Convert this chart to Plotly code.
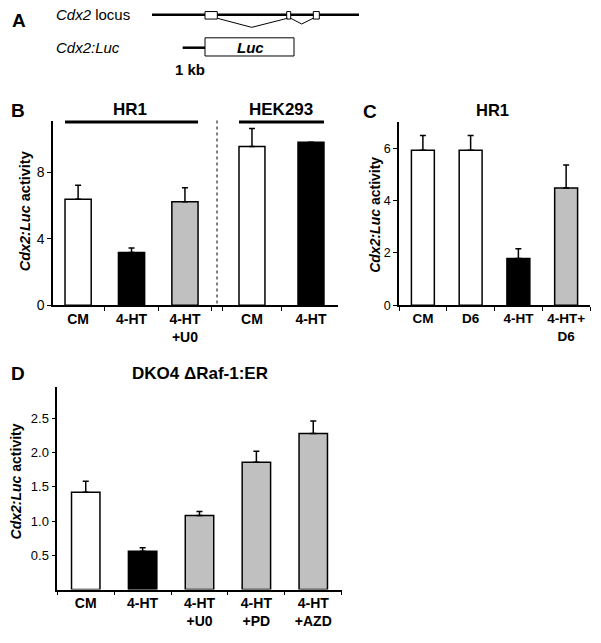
import plotly.graph_objects as go

# ---------------- data ----------------
b_hr1_cats = ["CM", "4-HT", "4-HT<br>+U0"]
b_hr1_vals = [6.37, 3.16, 6.21]
b_hr1_err = [0.83, 0.28, 0.85]

b_hek_cats = ["CM", "4-HT"]
b_hek_vals = [9.54, 9.79]
b_hek_err = [1.08, 0.0]

c_cats = ["CM", "D6", "4-HT", "4-HT+<br>D6"]
c_vals = [5.94, 5.94, 1.79, 4.49]
c_err = [0.56, 0.56, 0.37, 0.88]

d_cats = ["CM", "4-HT", "4-HT<br>+U0", "4-HT<br>+PD", "4-HT<br>+AZD"]
d_vals = [1.42, 0.56, 1.08, 1.86, 2.28]
d_err = [0.16, 0.05, 0.06, 0.16, 0.18]

b_ticks = [0, 4, 8]
c_ticks = [0, 2, 4, 6]
d_ticks = [0.5, 1.0, 1.5, 2.0, 2.5]

# ---------------- style ----------------
W, H = 601, 643
FONT = "Liberation Sans, Arial, sans-serif"
WHITE, BLACK, GRAY = "white", "black", "#c0c0c0"
b_hr1_colors = [WHITE, BLACK, GRAY]
b_hek_colors = [WHITE, BLACK]
c_colors = [WHITE, WHITE, BLACK, GRAY]
d_colors = [WHITE, BLACK, GRAY, GRAY, GRAY]


def fx(x):
    return x / W


def fy(y):
    return 1 - y / H


def bar(cats, vals, err, colors, xa, ya, width):
    return go.Bar(
        x=cats, y=vals, xaxis=xa, yaxis=ya, width=width,
        marker=dict(color=colors, line=dict(color="black", width=1.5)),
        error_y=dict(type="data", symmetric=False, array=err,
                     arrayminus=[0] * len(err), color="black",
                     thickness=1.5, width=3),
        showlegend=False, hoverinfo="skip",
    )


W_B1, W_B2, W_C, W_D = 0.49, 0.44, 0.48, 0.5

fig = go.Figure()
fig.add_trace(bar(b_hr1_cats, b_hr1_vals, b_hr1_err, b_hr1_colors, "x", "y", W_B1))
fig.add_trace(bar(b_hek_cats, b_hek_vals, b_hek_err, b_hek_colors, "x2", "y", W_B2))
fig.add_trace(bar(c_cats, c_vals, c_err, c_colors, "x3", "y3", W_C))
fig.add_trace(bar(d_cats, d_vals, d_err, d_colors, "x4", "y4", W_D))

xcommon = dict(type="category", showline=True, linecolor="black", linewidth=1.5,
               ticks="outside", tickson="boundaries", ticklen=4, tickcolor="black",
               tickwidth=1.2, showgrid=False, zeroline=False, fixedrange=True)
ycommon = dict(showline=True, linecolor="black", linewidth=1.5, ticks="outside",
               ticklen=4, tickcolor="black", tickwidth=1.2, showgrid=False,
               zeroline=False, fixedrange=True)

fig.update_layout(
    width=W, height=H, margin=dict(l=0, r=0, t=0, b=0),
    paper_bgcolor="white", plot_bgcolor="rgba(0,0,0,0)",
    font=dict(family=FONT, color="black"),
    showlegend=False,
    xaxis=dict(xcommon, domain=[fx(53), fx(217)], range=[-0.47, 2.6], anchor="y",
               tickfont=dict(size=14, weight="bold", family=FONT)),
    xaxis2=dict(xcommon, domain=[fx(217), fx(338)], range=[-0.593, 1.458], anchor="y",
                tickfont=dict(size=14, weight="bold", family=FONT)),
    yaxis=dict(ycommon, domain=[fy(309), fy(123)], range=[0, 11.04], anchor="x",
               tickvals=b_ticks, tickfont=dict(size=14, family=FONT)),
    xaxis3=dict(xcommon, domain=[fx(399), fx(590)], range=[-0.5, 3.5], anchor="y3",
                tickfont=dict(size=13.5, weight="bold", family=FONT)),
    yaxis3=dict(ycommon, domain=[fy(309), fy(124)], range=[0, 7.0], anchor="x3",
                tickvals=c_ticks, tickfont=dict(size=12.5, family=FONT)),
    xaxis4=dict(xcommon, domain=[fx(57.3), fx(341.7)], range=[-0.5, 4.5], anchor="y4",
                tickfont=dict(size=14, weight="bold", family=FONT)),
    yaxis4=dict(ycommon, domain=[fy(597), fy(391.7)], range=[0, 2.96], anchor="x4",
                tickvals=d_ticks, tickformat=".1f", tickfont=dict(size=13, family=FONT)),
)

shapes = []
# Panel B group lines
shapes.append(dict(type="line", xref="x", yref="paper", x0=-W_B1 / 2, x1=2 + W_B1 / 2,
                   y0=fy(123.5), y1=fy(123.5), line=dict(color="black", width=3)))
shapes.append(dict(type="line", xref="x2", yref="paper", x0=-W_B2 / 2, x1=1 + W_B2 / 2,
                   y0=fy(123.5), y1=fy(123.5), line=dict(color="black", width=3)))
# dotted separator
shapes.append(dict(type="line", xref="paper", yref="paper", x0=fx(217), x1=fx(217),
                   y0=fy(122), y1=fy(309), line=dict(color="black", width=1, dash="dot")))

# Panel A schematic
lw = dict(color="black", width=2.5)
thin = dict(color="black", width=1)
shapes.append(dict(type="line", xref="paper", yref="paper", x0=fx(152), x1=fx(359),
                   y0=fy(15), y1=fy(15), line=lw))
for (a, b) in [(205, 217.3), (286.7, 290.7), (313.3, 319.3)]:
    shapes.append(dict(type="rect", xref="paper", yref="paper", x0=fx(a), x1=fx(b),
                       y0=fy(19.3), y1=fy(11.7), fillcolor="white", line=thin))
for pts in [[(217.3, 18.5), (251.7, 27.7), (287.5, 18.5)],
            [(290.7, 18.5), (301.7, 24.3), (313.3, 18.5)]]:
    for (p, q) in zip(pts[:-1], pts[1:]):
        shapes.append(dict(type="line", xref="paper", yref="paper", x0=fx(p[0]), x1=fx(q[0]),
                           y0=fy(p[1]), y1=fy(q[1]), line=thin))
shapes.append(dict(type="line", xref="paper", yref="paper", x0=fx(182.7), x1=fx(205),
                   y0=fy(48.3), y1=fy(48.3), line=lw))
shapes.append(dict(type="rect", xref="paper", yref="paper", x0=fx(205), x1=fx(294),
                   y0=fy(56.7), y1=fy(38.3), fillcolor="white", line=thin))
fig.update_layout(shapes=shapes)


def ann(text, x, y, size, bold=False, angle=0, xanchor="center"):
    return dict(text=text, x=fx(x), y=fy(y), xref="paper", yref="paper",
                showarrow=False, xanchor=xanchor, yanchor="middle", textangle=angle,
                font=dict(family=FONT, size=size, color="black",
                          weight="bold" if bold else "normal"))


annotations = [
    ann("A", 18.5, 20.5, 19, bold=True),
    ann("<i>Cdx2</i> locus", 54, 15, 15, xanchor="left"),
    ann("<i>Cdx2:Luc</i>", 54, 48, 15, xanchor="left"),
    ann("<i>Luc</i>", 250, 48, 15, bold=True),
    ann("1 kb", 190, 70, 15, bold=True),
    ann("B", 18.3, 112, 19, bold=True),
    ann("HR1", 130, 111, 17, bold=True),
    ann("HEK293", 281, 111, 17, bold=True),
    ann("<i>Cdx2:Luc</i> activity", 25, 214, 14.5, bold=True, angle=-90),
    ann("C", 370, 113, 19, bold=True),
    ann("HR1", 492.5, 111, 16.5, bold=True),
    ann("<i>Cdx2:Luc</i> activity", 375, 217.5, 14, bold=True, angle=-90),
    ann("D", 17.5, 378, 19, bold=True),
    ann("DKO4 ΔRaf-1:ER", 199.5, 378, 17, bold=True),
    ann("<i>Cdx2:Luc</i> activity", 16, 487.5, 14, bold=True, angle=-90),
]
fig.update_layout(annotations=annotations)

fig.write_html(
    "out.html",
    config={"displayModeBar": False},
    post_script="document.body.style.margin='0';document.body.style.overflow='hidden';",
)
